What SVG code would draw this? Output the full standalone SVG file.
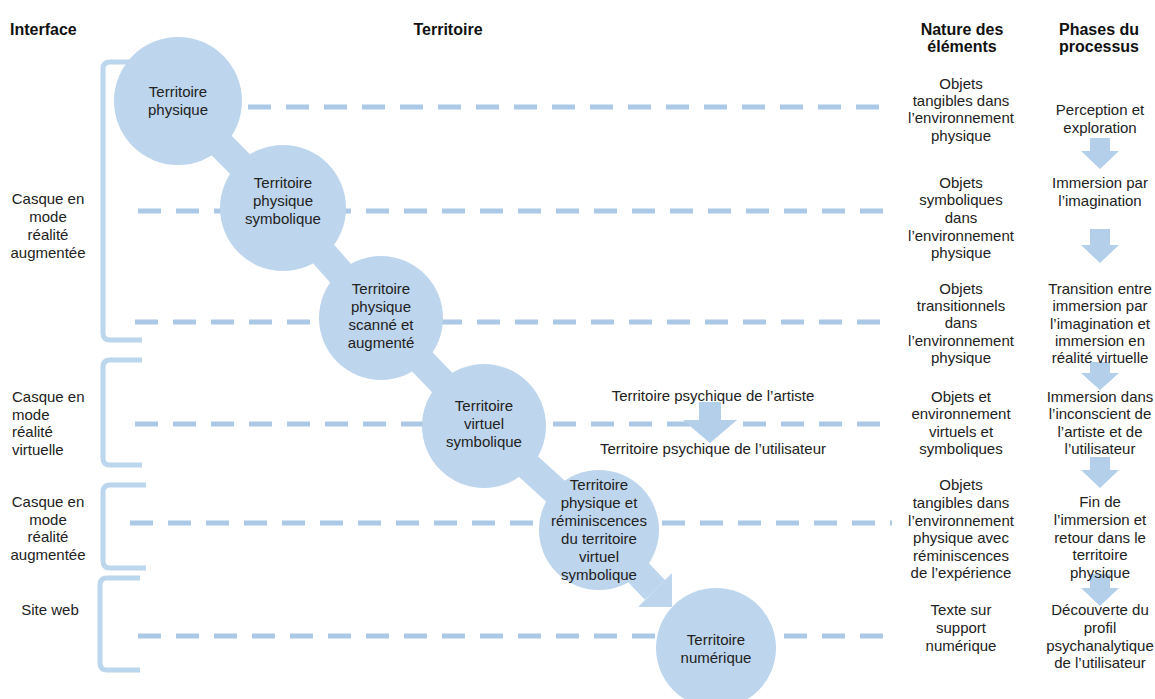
<svg xmlns="http://www.w3.org/2000/svg" width="1155" height="699" viewBox="0 0 1155 699">
<style>
text{font-family:"Liberation Sans",Arial,sans-serif;font-size:15px;fill:#222;}
.h{font-weight:bold;font-size:16px;fill:#111;}
.c{text-anchor:middle;}
.dash{stroke:#abc8e6;stroke-width:5;stroke-dasharray:23 15;fill:none;}
.br{stroke:#bcd6ee;stroke-width:5;fill:none;}
.band{stroke:#bdd5ed;stroke-width:28;fill:none;}
.circ{fill:#bdd5ed;}
.arr{fill:#b4cfea;}
</style>
<rect width="1155" height="699" fill="#fff"/>
<g id="headers">
<text class="h" x="10" y="35">Interface</text>
<text class="h c" x="448" y="35">Territoire</text>
<text class="h c" x="962" y="35">Nature des</text>
<text class="h c" x="962" y="52">éléments</text>
<text class="h c" x="1099" y="35">Phases du</text>
<text class="h c" x="1099" y="52">processus</text>
</g>
<g id="connectors">
<line class="dash" x1="248" y1="107" x2="892" y2="107"/>
<line class="dash" x1="138" y1="211" x2="892" y2="211"/>
<line class="dash" x1="135" y1="322" x2="892" y2="322"/>
<line class="dash" x1="135" y1="424" x2="892" y2="424"/>
<line class="dash" x1="130" y1="523" x2="892" y2="523"/>
<line class="dash" x1="138" y1="636" x2="892" y2="636"/>
<path class="band" d="M178,101 L283,208 L380,318 L484,426 L598,530 L655,590"/>
<polygon style="fill:#bdd5ed" points="638,607 672,573 672,607"/>
<polygon class="arr" points="699,402 721,402 721,420 737,420 710,443 683,420 699,420"/>
<polygon class="arr" points="1090,138 1110,138 1110,151 1119,151 1100,169 1081,151 1090,151"/>
<polygon class="arr" points="1090,229 1110,229 1110,245 1119,245 1100,263 1081,245 1090,245"/>
<polygon class="arr" points="1090,362 1110,362 1110,373 1119,373 1100,390 1081,373 1090,373"/>
<polygon class="arr" points="1090,457 1110,457 1110,470 1119,470 1100,488 1081,470 1090,470"/>
<polygon class="arr" points="1090,574 1110,574 1110,588 1119,588 1100,606 1081,588 1090,588"/>
</g>
<g id="brackets">
<path class="br" d="M130,62 H110 Q103,62 103,69 V333 Q103,340 110,340 H142"/>
<path class="br" d="M142,360 H110 Q103,360 103,367 V458 Q103,465 110,465 H142"/>
<path class="br" d="M146,485 H110 Q103,485 103,492 V561 Q103,568 110,568 H146"/>
<path class="br" d="M140,578 H107 Q100,578 100,585 V663 Q100,670 107,670 H140"/>
</g>
<g id="interfaces">
<text class="c" x="48" y="204">Casque en</text>
<text class="c" x="48" y="222">mode</text>
<text class="c" x="48" y="240">réalité</text>
<text class="c" x="48" y="258">augmentée</text>
<text x="12" y="402">Casque en</text>
<text x="12" y="420">mode</text>
<text x="12" y="437">réalité</text>
<text x="12" y="455">virtuelle</text>
<text class="c" x="48" y="507">Casque en</text>
<text class="c" x="48" y="525">mode</text>
<text class="c" x="48" y="542">réalité</text>
<text class="c" x="48" y="560">augmentée</text>
<text class="c" x="50" y="615">Site web</text>
</g>
<g id="n1"><circle class="circ" cx="178" cy="101" r="64"/>
<text class="c" x="178" y="97">Territoire</text><text class="c" x="178" y="115">physique</text></g>
<g id="n2"><circle class="circ" cx="283" cy="208" r="63"/>
<text class="c" x="283" y="188">Territoire</text><text class="c" x="283" y="206">physique</text><text class="c" x="283" y="224">symbolique</text></g>
<g id="n3"><circle class="circ" cx="381" cy="318" r="62"/>
<text class="c" x="381" y="294">Territoire</text><text class="c" x="381" y="312">physique</text><text class="c" x="381" y="330">scanné et</text><text class="c" x="381" y="348">augmenté</text></g>
<g id="n4"><circle class="circ" cx="484" cy="426" r="62"/>
<text class="c" x="484" y="411">Territoire</text><text class="c" x="484" y="429">virtuel</text><text class="c" x="484" y="447">symbolique</text></g>
<g id="n5"><circle class="circ" cx="599" cy="530" r="60"/>
<text class="c" x="599" y="490">Territoire</text><text class="c" x="599" y="508">physique et</text><text class="c" x="599" y="526">réminiscences</text><text class="c" x="599" y="544">du territoire</text><text class="c" x="599" y="562">virtuel</text><text class="c" x="599" y="580">symbolique</text></g>
<g id="n6"><circle class="circ" cx="716" cy="648" r="60"/>
<text class="c" x="716" y="645">Territoire</text><text class="c" x="716" y="663">numérique</text></g>
<g id="psy">
<text class="c" x="713" y="401">Territoire psychique de l’artiste</text>
<text class="c" x="713" y="454">Territoire psychique de l’utilisateur</text>
</g>
<g id="nature">
<text class="c" x="961" y="89">Objets</text><text class="c" x="961" y="106">tangibles dans</text><text class="c" x="961" y="123">l’environnement</text><text class="c" x="961" y="141">physique</text>
<text class="c" x="961" y="188">Objets</text><text class="c" x="961" y="205">symboliques</text><text class="c" x="961" y="223">dans</text><text class="c" x="961" y="241">l’environnement</text><text class="c" x="961" y="258">physique</text>
<text class="c" x="961" y="294">Objets</text><text class="c" x="961" y="311">transitionnels</text><text class="c" x="961" y="328">dans</text><text class="c" x="961" y="346">l’environnement</text><text class="c" x="961" y="363">physique</text>
<text class="c" x="961" y="402">Objets et</text><text class="c" x="961" y="419">environnement</text><text class="c" x="961" y="437">virtuels et</text><text class="c" x="961" y="454">symboliques</text>
<text class="c" x="961" y="490">Objets</text><text class="c" x="961" y="508">tangibles dans</text><text class="c" x="961" y="526">l’environnement</text><text class="c" x="961" y="543">physique avec</text><text class="c" x="961" y="561">réminiscences</text><text class="c" x="961" y="578">de l’expérience</text>
<text class="c" x="961" y="615">Texte sur</text><text class="c" x="961" y="633">support</text><text class="c" x="961" y="651">numérique</text>
</g>
<g id="phases">
<text class="c" x="1100" y="115">Perception et</text><text class="c" x="1100" y="133">exploration</text>
<text class="c" x="1100" y="188">Immersion par</text><text class="c" x="1100" y="206">l’imagination</text>
<text class="c" x="1100" y="294">Transition entre</text><text class="c" x="1100" y="311">immersion par</text><text class="c" x="1100" y="329">l’imagination et</text><text class="c" x="1100" y="346">immersion en</text><text class="c" x="1100" y="363">réalité virtuelle</text>
<text class="c" x="1100" y="402">Immersion dans</text><text class="c" x="1100" y="419">l’inconscient de</text><text class="c" x="1100" y="437">l’artiste et de</text><text class="c" x="1100" y="454">l’utilisateur</text>
<text class="c" x="1100" y="507">Fin de</text><text class="c" x="1100" y="525">l’immersion et</text><text class="c" x="1100" y="543">retour dans le</text><text class="c" x="1100" y="560">territoire</text><text class="c" x="1100" y="578">physique</text>
<text class="c" x="1100" y="615">Découverte du</text><text class="c" x="1100" y="633">profil</text><text class="c" x="1100" y="651">psychanalytique</text><text class="c" x="1100" y="668">de l’utilisateur</text>
</g>
</svg>
